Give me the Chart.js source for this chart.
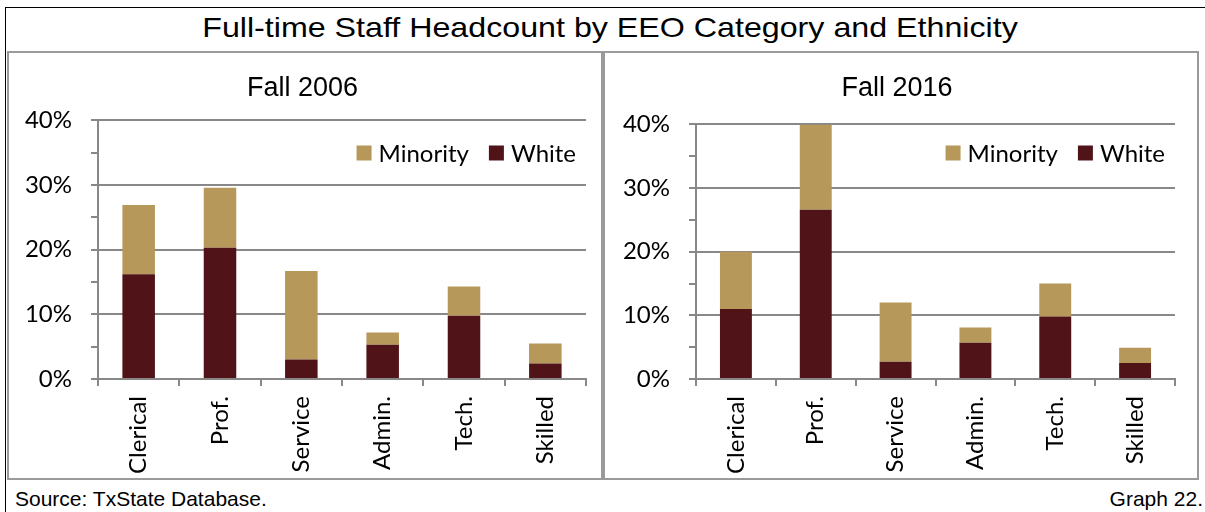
<!DOCTYPE html>
<html>
<head>
<meta charset="utf-8">
<script src="https://cdn.jsdelivr.net/npm/chart.js@4.4.1/dist/chart.umd.min.js"></script>
<style>
  body { margin: 0; background: #fff; width: 1205px; height: 512px; overflow: hidden; position: relative; }
  .frame { position: absolute; left: 5px; top: 7px; width: 1210px; height: 600px; border: 1px solid #000; box-sizing: border-box; }
  .title { position: absolute; left: 5px; width: 1210px; top: 12px; line-height: 32px; text-align: center;
           font-family: "Liberation Sans", Arial, sans-serif; font-size: 28px; color: #000;
           transform: scaleX(1.15); transform-origin: 605px 0; }
  .panel { position: absolute; top: 51px; height: 429px; width: 596px; border: 2px solid #9a9a9a; box-sizing: border-box; }
  .panel canvas { position: absolute; left: 0; top: 0; }
  .foot { position: absolute; top: 487px; line-height: 24px; font-family: "Liberation Sans", Arial, sans-serif; font-size: 21px; color: #000; }
</style>
</head>
<body>
<div class="frame"></div>
<div class="title">Full-time Staff Headcount by EEO Category and Ethnicity</div>
<div class="panel" style="left:7px;"><canvas id="c2006" width="592" height="425"></canvas></div>
<div class="panel" style="left:603px;"><canvas id="c2016" width="592" height="425"></canvas></div>
<div class="foot" style="left:15px;">Source: TxState Database.</div>
<div class="foot" style="right:2px;">Graph 22.</div>

<script>
const categories = ["Clerical", "Prof.", "Service", "Admin.", "Tech.", "Skilled"];
const white2006 = [16.2, 20.3, 3.0, 5.3, 9.8, 2.4];
const minority2006 = [10.7, 9.3, 13.7, 1.9, 4.5, 3.1];
const white2016 = [11.0, 26.6, 2.7, 5.7, 9.8, 2.5];
const minority2016 = [9.0, 13.4, 9.3, 2.4, 5.2, 2.4];

const WHITE_COLOR = "#501318";
const MINORITY_COLOR = "#b5985a";
const AXIS_GRAY = "#888888";
const labelFont = { family: "Lato, 'Noto Sans', sans-serif", size: 24 };

// legend sits inside the plot, top right, Minority first
const insideLegend = {
  id: "insideLegend",
  afterDraw(chart, args, opts) {
    const ctx = chart.ctx;
    const area = chart.chartArea;
    const items = chart.data.datasets.slice().reverse();
    const y = opts.y;
    ctx.save();
    ctx.font = labelFont.size + "px " + labelFont.family;
    ctx.textBaseline = "middle";
    ctx.textAlign = "left";
    // walk from the right edge back to the left
    let x = area.right - 10;
    const pos = [];
    for (let i = items.length - 1; i >= 0; i--) {
      const w = ctx.measureText(items[i].label).width;
      const textX = x - w;
      const boxX = textX - 7 - 15;
      pos[i] = { boxX, textX };
      x = boxX - 20;
    }
    items.forEach((ds, i) => {
      ctx.fillStyle = ds.backgroundColor;
      ctx.fillRect(pos[i].boxX, y - 7.5, 15, 15);
      ctx.fillStyle = "#000";
      ctx.fillText(ds.label, pos[i].textX, y + 1);
    });
    ctx.restore();
  }
};

function buildChart(id, title, white, minority, layout) {
  const ctx = document.getElementById(id).getContext("2d");
  return new Chart(ctx, {
    type: "bar",
    data: {
      labels: categories,
      datasets: [
        { label: "White", data: white, backgroundColor: WHITE_COLOR, borderWidth: 0,
          categoryPercentage: 1, barPercentage: 0.4 },
        { label: "Minority", data: minority, backgroundColor: MINORITY_COLOR, borderWidth: 0,
          categoryPercentage: 1, barPercentage: 0.4 }
      ]
    },
    plugins: [insideLegend],
    options: {
      responsive: false,
      animation: false,
      layout: { padding: { left: layout.left, right: layout.right, top: 0, bottom: 0 } },
      plugins: {
        title: {
          display: true,
          text: title,
          color: "#000",
          font: { family: "'Liberation Sans', Arial, sans-serif", size: 27, weight: "normal" },
          padding: { top: 19, bottom: layout.titleBottom }
        },
        legend: { display: false },
        tooltip: { enabled: false },
        insideLegend: { y: 100 }
      },
      scales: {
        x: {
          stacked: true,
          grid: { drawOnChartArea: false, drawTicks: true, tickLength: 7, color: AXIS_GRAY, lineWidth: 2 },
          border: { display: true, color: AXIS_GRAY, width: 2 },
          ticks: { color: "#000", font: labelFont, minRotation: 90, maxRotation: 90, padding: 10, autoSkip: false },
          afterFit: (scale) => { scale.height = layout.xHeight; }
        },
        y: {
          stacked: true,
          min: 0,
          max: 40,
          grid: {
            color: (c) => (c.tick && c.tick.value % 10 === 0 ? AXIS_GRAY : "rgba(0,0,0,0)"),
            tickColor: AXIS_GRAY,
            lineWidth: 2,
            tickLength: 7
          },
          border: { display: true, color: AXIS_GRAY, width: 2 },
          ticks: {
            stepSize: 5,
            autoSkip: false,
            color: "#000",
            font: labelFont,
            padding: 19,
            callback: (v) => (v % 10 === 0 ? v + "%" : "")
          },
          afterFit: (scale) => { scale.width = layout.yWidth; }
        }
      }
    }
  });
}

buildChart("c2006", "Fall 2006", white2006, minority2006,
  { left: 10, right: 15, titleBottom: 16, xHeight: 99, yWidth: 79 });
buildChart("c2016", "Fall 2016", white2016, minority2016,
  { left: 14, right: 22, titleBottom: 20, xHeight: 99, yWidth: 77 });
</script>
</body>
</html>
